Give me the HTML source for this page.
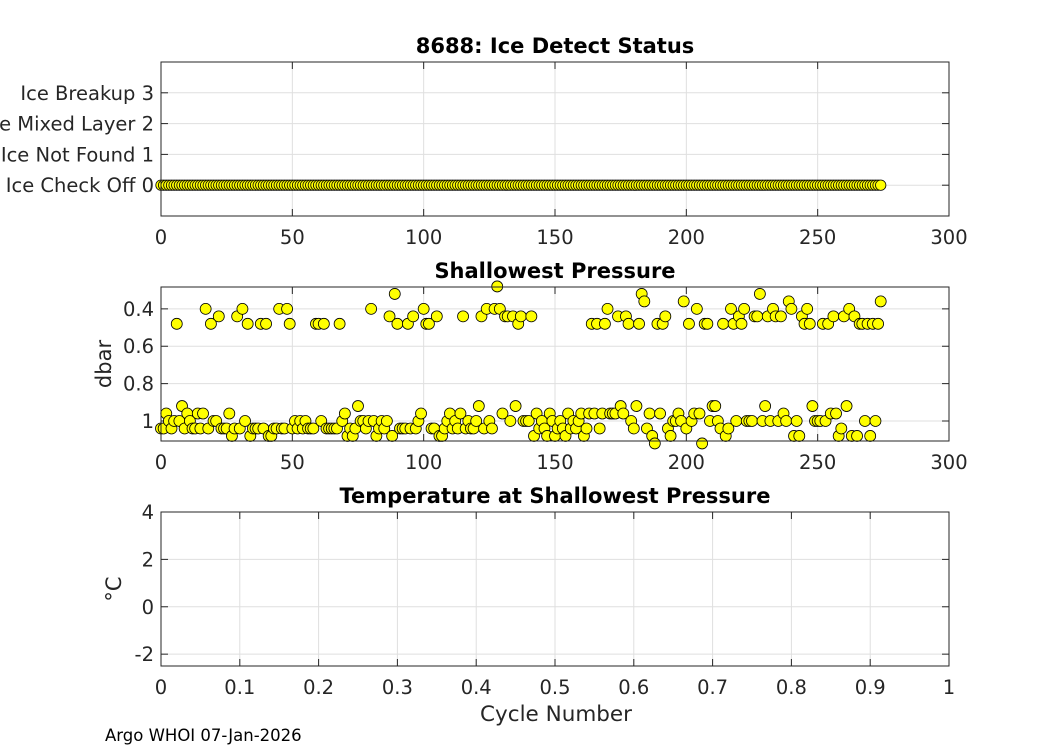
<!DOCTYPE html>
<html><head><meta charset="utf-8"><style>
body{margin:0;background:#fff;}
svg{display:block;font-family:"DejaVu Sans","Liberation Sans",sans-serif;}
</style></head><body>
<svg id="fig" width="1050" height="750" viewBox="0 0 1050 750"></svg>
<script>
const iceLevels=[0,1,2,3];
const iceLabels=["Ice Check Off 0","Ice Not Found 1","Ice Mixed Layer 2","Ice Breakup 3"];
const xTicksCycle=[0,50,100,150,200,250,300];
const presTicks=[0.4,0.6,0.8,1];
const presTickLabels=["0.4","0.6","0.8","1"];
const tempTicks=[-2,0,2,4];
const xTicksUnit=[0,0.1,0.2,0.3,0.4,0.5,0.6,0.7,0.8,0.9,1];
const shallowPres=[
1.04,1.04,0.96,1.0,1.04,1.0,.48,1.0,0.92,1.04,
0.96,1.0,1.04,1.04,0.96,1.04,0.96,.40,1.04,.48,
1.0,1.0,.44,1.04,1.04,1.04,0.96,1.08,1.04,.44,
1.04,.40,1.0,.48,1.08,1.04,1.04,1.04,.48,1.04,
.48,1.08,1.08,1.04,1.04,.40,1.04,1.04,.40,.48,
1.04,1.0,1.04,1.0,1.04,1.0,1.04,1.04,1.04,.48,
.48,1.0,.48,1.04,1.04,1.04,1.04,1.04,.48,1.0,
0.96,1.08,1.04,1.08,1.04,0.92,1.0,1.0,1.04,1.0,
.40,1.0,1.08,1.04,1.0,1.04,1.0,.44,1.08,.32,
.48,1.04,1.04,1.04,.48,1.04,.44,1.04,1.0,0.96,
.40,.48,.48,1.04,1.04,.44,1.08,1.08,1.04,1.0,
0.96,1.04,1.0,1.04,0.96,.44,1.04,1.0,1.04,1.04,
1.0,0.92,.44,1.04,.40,1.0,1.04,.40,.28,.40,
0.96,.44,.44,1.0,.44,0.92,.48,.44,1.0,1.0,
1.0,.44,1.08,0.96,1.04,1.0,1.04,1.08,0.96,1.0,
1.08,1.04,1.0,1.04,1.08,0.96,1.04,1.0,1.04,1.0,
0.96,1.08,1.04,0.96,.48,0.96,.48,1.04,0.96,.48,
.40,0.96,0.96,0.96,.44,0.92,0.96,.44,.48,1.0,
1.04,0.92,.48,.32,.36,1.04,0.96,1.08,1.12,.48,
0.96,.48,.44,1.04,1.08,1.0,1.0,0.96,1.0,.36,
1.04,.48,1.0,0.96,.40,0.96,1.12,.48,.48,1.0,
0.92,0.92,1.0,1.04,.48,1.08,1.04,.40,.48,1.0,
.44,.48,.40,1.0,1.0,1.0,.44,.44,.32,1.0,
0.92,.44,1.0,.40,.44,1.0,.44,0.96,1.0,.36,
.40,1.08,1.0,1.08,.44,.48,.40,.48,0.92,1.0,
1.0,1.0,.48,1.0,.48,0.96,.44,0.96,1.08,1.04,
.44,0.92,.40,1.08,.44,1.08,.48,.48,1.0,.48,
1.08,.48,1.0,.48,.36];
const iceStatus=shallowPres.map(()=>0);

const NS="http://www.w3.org/2000/svg";
const svg=document.getElementById('fig');
function mk(tag,attrs,parent){const e=document.createElementNS(NS,tag);for(const k in attrs)e.setAttribute(k,attrs[k]);(parent||svg).appendChild(e);return e;}
function txt(s,attrs,parent){const e=mk('text',attrs,parent);e.textContent=s;return e;}
const L=161,R=949;
function axes(name,top,bot,xmin,xmax,ymin,ymax,rev){
  const g=mk('g',{});
  
  
  const sx=v=>L+(v-xmin)/(xmax-xmin)*(R-L);
  const sy=rev?(v=>top+(v-ymin)/(ymax-ymin)*(bot-top)):(v=>bot-(v-ymin)/(ymax-ymin)*(bot-top));
  mk('rect',{x:L,y:top,width:R-L,height:bot-top,fill:'#fff'},g);
  return {g,sx,sy,top,bot};
}
function drawX(a,ticks,labels){
  ticks.forEach((t,i)=>{const x=a.sx(t);
    const gl=mk('line',{x1:x,x2:x,y1:a.top,y2:a.bot,stroke:'#dfdfdf','stroke-width':1},a.g);
    
    mk('line',{x1:x,x2:x,y1:a.bot,y2:a.bot-7,stroke:'#262626'},a.g);
    mk('line',{x1:x,x2:x,y1:a.top,y2:a.top+7,stroke:'#262626'},a.g);
    const t2=txt(labels[i],{x:x,y:a.bot+28,'text-anchor':'middle','font-size':19.5,fill:'#262626'},a.g);
    
  });
}
function drawY(a,ticks,labels){
  ticks.forEach((t,i)=>{const y=a.sy(t);
    const gl=mk('line',{x1:L,x2:R,y1:y,y2:y,stroke:'#dfdfdf','stroke-width':1},a.g);
    
    mk('line',{x1:L,x2:L+7,y1:y,y2:y,stroke:'#262626'},a.g);
    mk('line',{x1:R,x2:R-7,y1:y,y2:y,stroke:'#262626'},a.g);
    const t2=txt(labels[i],{x:L-7,y:y+7,'text-anchor':'end','font-size':19.5,fill:'#262626'},a.g);
    
  });
}
function box(a){mk('rect',{x:L,y:a.top,width:R-L,height:a.bot-a.top,fill:'none',stroke:'#262626','stroke-width':1},a.g);}
function title(a,s,name){const t=txt(s,{x:(L+R)/2,y:a.top-9,'text-anchor':'middle','font-size':21,'font-weight':'bold',fill:'#000'},a.g);
  }
function pts(a,ys,r,name){ys.forEach((v,i)=>{const c=mk('circle',{cx:a.sx(i),cy:a.sy(v),r:r,fill:'#ffff00',stroke:'#000','stroke-width':0.8},a.g);
  });}

const a1=axes('ice-detect-axes',62,216,0,300,-1,4,false);
drawX(a1,xTicksCycle,xTicksCycle.map(String));
drawY(a1,iceLevels,iceLabels);
pts(a1,iceStatus,5.2,'ice-status-point');
box(a1);title(a1,'8688: Ice Detect Status','ice-detect-title');

const a2=axes('shallowest-pressure-axes',287,441,0,300,0.283,1.107,true);
drawX(a2,xTicksCycle,xTicksCycle.map(String));
drawY(a2,presTicks,presTickLabels);
pts(a2,shallowPres,5.5,'pressure-point');
box(a2);title(a2,'Shallowest Pressure','pressure-title');
const yl2=txt('dbar',{transform:'translate(111,364) rotate(-90)','text-anchor':'middle','font-size':21,fill:'#262626'},a2.g);


const a3=axes('temperature-axes',512,666,0,1,-2.5,4,false);
drawX(a3,xTicksUnit,xTicksUnit.map(String));
drawY(a3,tempTicks,tempTicks.map(String));
box(a3);title(a3,'Temperature at Shallowest Pressure','temperature-title');
const yl3=txt('°C',{transform:'translate(121,589) rotate(-90)','text-anchor':'middle','font-size':21,fill:'#262626'},a3.g);

const xl=txt('Cycle Number',{x:556,y:721,'text-anchor':'middle','font-size':21.5,fill:'#262626'});

const ft=txt('Argo WHOI 07-Jan-2026',{x:105,y:741,'font-size':16.5,fill:'#000'});

</script>
</body></html>
